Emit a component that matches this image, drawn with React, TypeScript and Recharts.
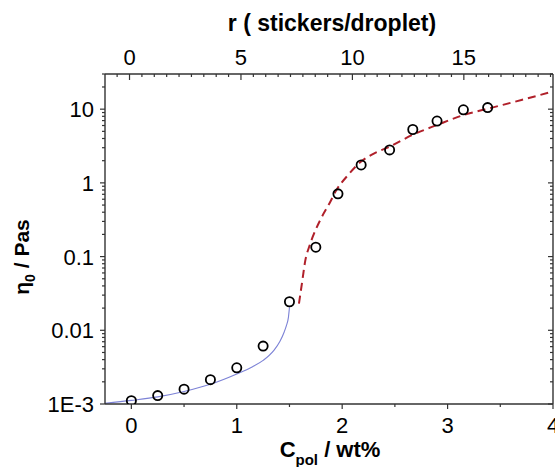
import React from "react";
import {
  ComposedChart,
  Line,
  Scatter,
  XAxis,
  YAxis,
} from "recharts";

// measured points: polymer concentration (wt%) vs zero-shear viscosity (Pa s)
const cPol = [0, 0.25, 0.5, 0.75, 1.0, 1.25, 1.5, 1.75, 1.96, 2.18, 2.45, 2.67, 2.9, 3.15, 3.38];
const eta0 = [0.00111, 0.0013, 0.00159, 0.00214, 0.0031, 0.0061, 0.0244, 0.134, 0.71, 1.75, 2.8, 5.3, 6.9, 9.8, 10.5];

// low-concentration fit (solid blue)
const fitLowC = [-0.25, 0, 0.25, 0.5, 0.75, 1.0, 1.15, 1.25, 1.35, 1.41, 1.45, 1.47, 1.49, 1.5];
const fitLowEta = [0.00102, 0.00112, 0.00125, 0.00148, 0.00185, 0.00255, 0.0032, 0.0039, 0.0053, 0.0071, 0.0095, 0.0115, 0.015, 0.0205];

// high-concentration fit (dashed red)
const fitHighC = [1.59, 1.62, 1.65, 1.69, 1.73, 1.8, 1.88, 1.95, 2.05, 2.17, 2.3, 2.45, 2.67, 2.9, 3.15, 3.4, 3.7, 4.0];
const fitHighEta = [0.023, 0.045, 0.088, 0.14, 0.2, 0.33, 0.53, 0.82, 1.25, 1.9, 2.5, 3.1, 4.5, 6.1, 8.3, 10.3, 13.3, 17.4];

const bottomTicks = [0, 0.5, 1, 1.5, 2, 2.5, 3, 3.5, 4];
const topMajor = [0, 5, 10, 15];
const topTicks: number[] = [];
for (let i = -1; i <= 34; i++) topTicks.push(Math.round((i * 5) / 9 * 1000) / 1000);
const decades = [0.001, 0.01, 0.1, 1, 10];
const decadeLabels = ["1E-3", "0.01", "0.1", "1", "10"];
const logTicks: number[] = [];
decades.forEach((d) => {
  for (let m = 1; m <= 9; m++) {
    const v = +(d * m).toPrecision(3);
    if (v <= 30) logTicks.push(v);
  }
});

const points = cPol.map((c, i) => ({ x: c, y: eta0[i] }));
const lowFit = fitLowC.map((c, i) => ({ x: c, y: fitLowEta[i] }));
const highFit = fitHighC.map((c, i) => ({ x: c, y: fitHighEta[i] }));
// anchors the secondary (top / right) axes, draws nothing
const anchor = [{ x: 5, y: 1 }];

const FONT = "'Liberation Sans', Arial, sans-serif";
const AXIS = "#333";

function isDecade(v: number) {
  return decades.some((d) => Math.abs(d - v) < d * 1e-6);
}

function LeftTick({ x, y, payload }: any) {
  const v = payload.value;
  const major = isDecade(v);
  const idx = decades.findIndex((d) => Math.abs(d - v) < d * 1e-6);
  return (
    <g>
      <line x1={x - (major ? 5 : 3)} x2={x} y1={y} y2={y} stroke={AXIS} strokeWidth={1.2} />
      {major && (
        <text x={x - 11} y={y} dy={8} textAnchor="end" fontSize={22} fontFamily={FONT} fill="#000">
          {decadeLabels[idx]}
        </text>
      )}
    </g>
  );
}

function RightTick({ x, y, payload }: any) {
  const major = isDecade(payload.value);
  return <line x1={x - (major ? 5 : 3)} x2={x} y1={y} y2={y} stroke={AXIS} strokeWidth={1.2} />;
}

function BottomTick({ x, y, payload }: any) {
  const major = Number.isInteger(payload.value);
  return (
    <g>
      <line x1={x} x2={x} y1={y} y2={y + (major ? 5 : 3)} stroke={AXIS} strokeWidth={1.2} />
      {major && (
        <text x={x} y={y + 29} textAnchor="middle" fontSize={22} fontFamily={FONT} fill="#000">
          {payload.value}
        </text>
      )}
    </g>
  );
}

function TopTick({ x, y, payload }: any) {
  const major = topMajor.includes(payload.value);
  return (
    <g>
      <line x1={x} x2={x} y1={y} y2={y + (major ? 6 : 3)} stroke={AXIS} strokeWidth={1.2} />
      {major && (
        <text x={x} y={y - 9} textAnchor="middle" fontSize={22} fontFamily={FONT} fill="#000">
          {payload.value}
        </text>
      )}
    </g>
  );
}

function OpenCircle({ cx, cy }: any) {
  return <circle cx={cx} cy={cy} r={4.6} fill="none" stroke="#000" strokeWidth={1.8} />;
}

function NoShape() {
  return <g />;
}

export default function App() {
  return (
    <div style={{ position: "absolute", left: 0, top: 0, width: 555, height: 467, background: "#fff" }}>
      <ComposedChart width={555} height={467} margin={{ top: 0, right: 0, bottom: 0, left: 0 }}>
        <XAxis
          xAxisId="bottom"
          dataKey="x"
          type="number"
          domain={[-0.25, 4]}
          allowDataOverflow
          ticks={bottomTicks}
          interval={0}
          height={63}
          tickSize={0}
          tickMargin={0}
          tickLine={false}
          axisLine={{ stroke: AXIS, strokeWidth: 1.4 }}
          tick={<BottomTick />}
        />
        <XAxis
          xAxisId="top"
          orientation="top"
          dataKey="x"
          type="number"
          domain={[-1.1, 19]}
          allowDataOverflow
          ticks={topTicks.filter((t) => t >= -1.1 && t <= 19)}
          interval={0}
          height={74}
          tickSize={0}
          tickMargin={0}
          tickLine={false}
          axisLine={{ stroke: AXIS, strokeWidth: 1.4 }}
          tick={<TopTick />}
        />
        <YAxis
          yAxisId="left"
          dataKey="y"
          type="number"
          scale="log"
          domain={[0.001, 30]}
          allowDataOverflow
          ticks={logTicks}
          interval={0}
          width={105}
          tickSize={0}
          tickMargin={0}
          tickLine={false}
          axisLine={{ stroke: AXIS, strokeWidth: 1.4 }}
          tick={<LeftTick />}
        />
        <YAxis
          yAxisId="right"
          orientation="right"
          dataKey="y"
          type="number"
          scale="log"
          domain={[0.001, 30]}
          allowDataOverflow
          ticks={logTicks}
          interval={0}
          width={2}
          tickSize={0}
          tickMargin={0}
          tickLine={false}
          axisLine={{ stroke: AXIS, strokeWidth: 1.4 }}
          tick={<RightTick />}
        />
        <Line
          xAxisId="bottom"
          yAxisId="left"
          data={lowFit}
          dataKey="y"
          type="monotone"
          stroke="#7c82d6"
          strokeWidth={1.1}
          dot={false}
          isAnimationActive={false}
        />
        <Line
          xAxisId="bottom"
          yAxisId="left"
          data={highFit}
          dataKey="y"
          type="monotone"
          stroke="#b0202a"
          strokeWidth={2}
          strokeDasharray="8 5"
          dot={false}
          isAnimationActive={false}
        />
        <Scatter
          xAxisId="bottom"
          yAxisId="left"
          data={points}
          dataKey="y"
          shape={<OpenCircle />}
          isAnimationActive={false}
        />
        <Scatter
          xAxisId="top"
          yAxisId="right"
          data={anchor}
          dataKey="y"
          shape={<NoShape />}
          isAnimationActive={false}
        />
      </ComposedChart>
      <svg
        width={555}
        height={467}
        style={{ position: "absolute", left: 0, top: 0, pointerEvents: "none" }}
        fontFamily={FONT}
        fontWeight="bold"
      >
        <text x={332} y={31} textAnchor="middle" fontSize={23}>
          r ( stickers/droplet)
        </text>
        <text x={330} y={457} textAnchor="middle" fontSize={22}>
          C<tspan fontSize={15} dy={8}>pol</tspan>
          <tspan dy={-8}> / wt%</tspan>
        </text>
        <text transform="translate(29,257) rotate(-90)" textAnchor="middle" fontSize={21}>
          η<tspan fontSize={14} dy={6}>0</tspan>
          <tspan dy={-6}> / Pas</tspan>
        </text>
      </svg>
    </div>
  );
}
